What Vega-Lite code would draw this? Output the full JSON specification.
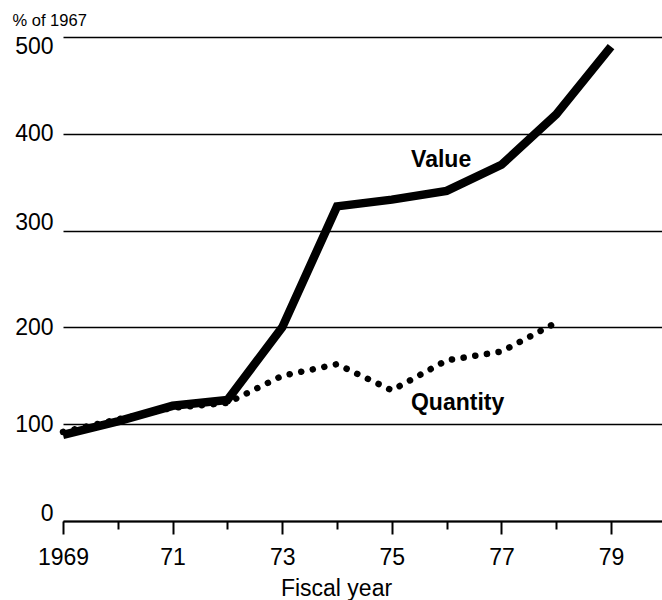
{
  "$schema": "https://vega.github.io/schema/vega-lite/v6.json",
  "autosize": {"type": "none"},
  "padding": {"left": 63, "top": 37, "right": 0, "bottom": 79},
  "width": 599,
  "height": 484,
  "background": "white",
  "config": {"view": {"stroke": null}, "font": "Liberation Sans"},
  "datasets": {
    "value": [
      {"year": 1969, "pct": 89}, {"year": 1970, "pct": 103}, {"year": 1971, "pct": 119},
      {"year": 1972, "pct": 125}, {"year": 1973, "pct": 200}, {"year": 1974, "pct": 325},
      {"year": 1975, "pct": 332}, {"year": 1976, "pct": 341}, {"year": 1977, "pct": 368},
      {"year": 1978, "pct": 420}, {"year": 1979, "pct": 490}
    ],
    "quantity": [
      {"year": 1969, "pct": 92}, {"year": 1970, "pct": 105}, {"year": 1971, "pct": 117},
      {"year": 1972, "pct": 122}, {"year": 1973, "pct": 150}, {"year": 1974, "pct": 162},
      {"year": 1975, "pct": 135}, {"year": 1976, "pct": 166}, {"year": 1977, "pct": 175},
      {"year": 1978, "pct": 205}
    ],
    "labels": [
      {"year": 1975.9, "pct": 373, "label": "Value"},
      {"year": 1976.2, "pct": 122, "label": "Quantity"}
    ]
  },
  "encoding": {
    "x": {
      "field": "year", "type": "quantitative",
      "scale": {"domain": [1969, 1979.93], "nice": false, "zero": false},
      "axis": {
        "values": [1969, 1970, 1971, 1972, 1973, 1974, 1975, 1976, 1977, 1978, 1979],
        "format": "d",
        "labelExpr": "datum.value % 2 == 0 ? '' : (datum.value == 1969 ? datum.label : slice(datum.label, 2))",
        "title": "Fiscal year",
        "titleFont": "Liberation Sans", "titleFontSize": 23, "titleFontWeight": "normal", "titleColor": "black",
        "titleX": 273, "titleY": 74, "titleAlign": "center", "titleBaseline": "alphabetic",
        "labelFont": "Liberation Sans", "labelFontSize": 23, "labelColor": "black",
        "labelPadding": 12, "labelOverlap": false, "labelFlush": false,
        "domainColor": "black", "domainWidth": 2,
        "tickColor": "black", "tickWidth": 2,
        "tickSize": {"condition": {"test": "datum.value % 2 == 0", "value": 8}, "value": 13},
        "grid": false
      }
    },
    "y": {
      "field": "pct", "type": "quantitative",
      "scale": {"domain": [0, 500], "nice": false},
      "axis": {
        "values": [0, 100, 200, 300, 400, 500],
        "title": "% of 1967",
        "titleAngle": 0, "titleAlign": "left", "titleBaseline": "middle",
        "titleX": -51, "titleY": -17,
        "titleFont": "Liberation Sans", "titleFontSize": 16.5, "titleFontWeight": "normal", "titleColor": "black",
        "labelFont": "Liberation Sans", "labelFontSize": 23, "labelColor": "black",
        "labelPadding": 10,
        "labelOffset": {"condition": [{"test": "datum.value == 500", "value": 9}, {"test": "datum.value == 300 || datum.value == 0", "value": -8}], "value": 0},
        "domain": false, "ticks": false,
        "grid": true, "gridColor": "black", "gridWidth": 1.5, "gridOpacity": 1
      }
    }
  },
  "layer": [
    {
      "data": {"name": "value"},
      "mark": {"type": "line", "color": "black", "strokeWidth": 8.5, "strokeJoin": "miter", "strokeCap": "butt"}
    },
    {
      "data": {"name": "quantity"},
      "mark": {"type": "line", "color": "black", "strokeWidth": 6.5, "strokeCap": "round", "strokeDash": [0.1, 11.7]}
    },
    {
      "data": {"name": "labels"},
      "mark": {"type": "text", "font": "Liberation Sans", "fontSize": 23, "fontWeight": "bold", "color": "black", "align": "center", "baseline": "middle"},
      "encoding": {"text": {"field": "label"}}
    }
  ]
}
